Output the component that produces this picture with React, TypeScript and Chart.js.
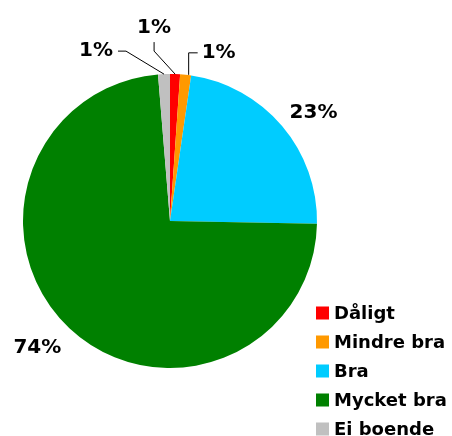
import React, { useEffect, useRef } from "react";
import { Chart, registerables } from "chart.js";

Chart.register(...registerables);

const categories = ["Dåligt", "Mindre bra", "Bra", "Mycket bra", "Ei boende"];
const values = [1.1, 1.2, 23.0, 73.4, 1.3];
const pctLabels = ["1%", "1%", "23%", "74%", "1%"];
const colors = ["#FF0000", "#FF9900", "#00CCFF", "#008000", "#C0C0C0"];

const FONT = "'DejaVu Sans', Verdana, sans-serif";

// label placement styles per slice (offsets relative to the arc edge point)
type LabelStyle =
  | { kind: "radial"; offset: number; nudge: [number, number] }
  | { kind: "leader"; start: [number, number]; pts: [number, number][]; text: [number, number]; align: CanvasTextAlign };

const labelStyles: LabelStyle[] = [
  { kind: "leader", start: [0, 0], pts: [[-21, -23], [-21, -32]], text: [-21, -46], align: "center" },
  { kind: "leader", start: [3, 0], pts: [[3, -22], [12, -22]], text: [16, -22], align: "left" },
  { kind: "radial", offset: 36, nudge: [4, 10] },
  { kind: "radial", offset: 38, nudge: [-6, -8] },
  { kind: "leader", start: [0, 0], pts: [[-38, -23], [-46, -23]], text: [-51, -23], align: "right" },
];

const overlayPlugin = {
  id: "overlay",
  afterDatasetsDraw(chart: any) {
    const ctx: CanvasRenderingContext2D = chart.ctx;
    const meta = chart.getDatasetMeta(0);
    ctx.save();
    ctx.fillStyle = "#000";
    ctx.strokeStyle = "#000";
    ctx.lineWidth = 1;
    ctx.font = `bold 20px ${FONT}`;
    ctx.textBaseline = "middle";
    meta.data.forEach((arc: any, i: number) => {
      const p = arc.getProps(["x", "y", "startAngle", "endAngle", "outerRadius"], true);
      const mid = (p.startAngle + p.endAngle) / 2;
      const st = labelStyles[i];
      if (st.kind === "radial") {
        const r = p.outerRadius + st.offset;
        ctx.textAlign = "center";
        ctx.fillText(pctLabels[i], p.x + r * Math.cos(mid) + st.nudge[0], p.y + r * Math.sin(mid) + st.nudge[1]);
      } else {
        const ex = p.x + p.outerRadius * Math.cos(mid);
        const ey = p.y + p.outerRadius * Math.sin(mid);
        ctx.beginPath();
        ctx.moveTo(ex + st.start[0], ey + st.start[1]);
        st.pts.forEach(([dx, dy]) => ctx.lineTo(ex + dx, ey + dy));
        ctx.stroke();
        ctx.textAlign = st.align;
        ctx.fillText(pctLabels[i], ex + st.text[0], ey + st.text[1]);
      }
    });
    // legend
    ctx.font = `bold 18px ${FONT}`;
    ctx.textAlign = "left";
    categories.forEach((c, i) => {
      const y = 313 + i * 29;
      ctx.fillStyle = colors[i];
      ctx.fillRect(316, y - 6.5, 13, 13);
      ctx.fillStyle = "#000";
      ctx.fillText(c, 334, y + 1);
    });
    ctx.restore();
  },
};

export default function App() {
  const ref = useRef<HTMLCanvasElement | null>(null);
  useEffect(() => {
    document.body.style.margin = "0";
    const chart = new Chart(ref.current!, {
      type: "pie",
      data: {
        labels: categories,
        datasets: [
          {
            data: values,
            backgroundColor: colors,
            borderWidth: 0,
          },
        ],
      },
      options: {
        animation: false,
        responsive: false,
        layout: { padding: { left: 23, right: 135, top: 74, bottom: 68 } },
        plugins: {
          legend: { display: false },
          tooltip: { enabled: false },
        },
      },
      plugins: [overlayPlugin],
    });
    return () => chart.destroy();
  }, []);
  return (
    <div style={{ position: "fixed", left: 0, top: 0, width: 452, height: 436, background: "#fff" }}>
      <canvas ref={ref} width={452} height={436} style={{ width: 452, height: 436 }} />
    </div>
  );
}
